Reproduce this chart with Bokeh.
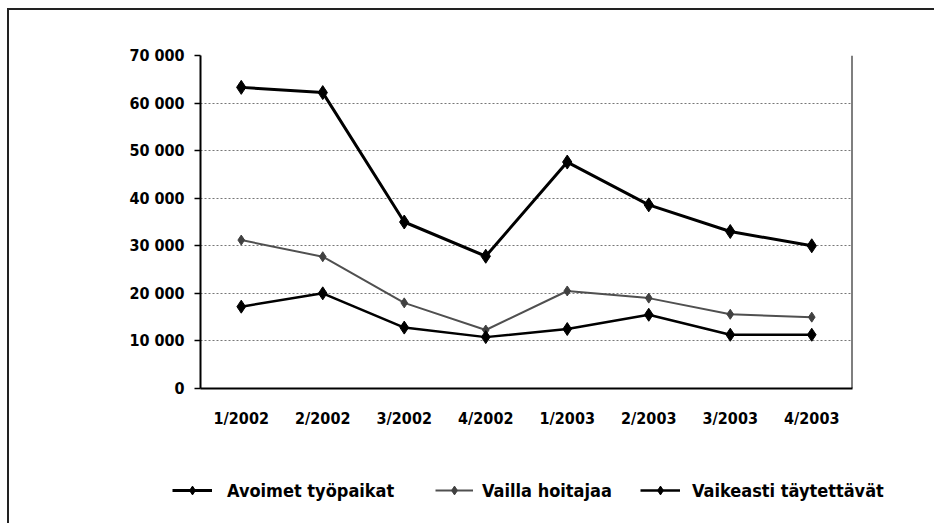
from bokeh.plotting import figure
from bokeh.models import FactorRange, Range1d, Legend, LegendItem, FixedTicker, Span, Column, Row
from bokeh.embed import file_html
from bokeh.resources import INLINE

quarters = ["1/2002", "2/2002", "3/2002", "4/2002", "1/2003", "2/2003", "3/2003", "4/2003"]
avoimet = [63300, 62200, 35000, 27800, 47600, 38600, 33000, 30000]
vailla = [31200, 27700, 18000, 12300, 20500, 19000, 15600, 15000]
vaikeasti = [17200, 20000, 12800, 10800, 12500, 15500, 11300, 11300]
yticks = [0, 10000, 20000, 30000, 40000, 50000, 60000, 70000]
ylabels = ["0", "10 000", "20 000", "30 000", "40 000", "50 000", "60 000", "70 000"]
series_names = ["Avoimet työpaikat", "Vailla hoitajaa", "Vaikeasti täytettävät"]

FONT = "DejaVu Sans Condensed"
W = 925

p = figure(width=W, height=420, x_range=FactorRange(*quarters, range_padding=0),
           y_range=Range1d(0, 70000), output_backend="svg", toolbar_location=None,
           min_border_left=191, min_border_right=82, min_border_top=45, min_border_bottom=38)
p.outline_line_color = None
p.xgrid.grid_line_color = None
p.ygrid.grid_line_color = "#777777"
p.ygrid.grid_line_dash = "2 2"
p.ygrid.grid_line_width = 1
p.yaxis.ticker = FixedTicker(ticks=yticks)
p.yaxis.major_label_overrides = {t: l for t, l in zip(yticks, ylabels)}
for ax in (p.xaxis, p.yaxis):
    ax.axis_line_color = "black"
    ax.axis_line_width = 2
    ax.major_label_text_font = FONT
    ax.major_label_text_font_style = "bold"
    ax.major_label_text_font_size = "16px"
    ax.major_label_text_color = "black"
    ax.minor_tick_line_color = None
p.yaxis.major_tick_line_color = "black"
p.yaxis.major_tick_line_width = 1.5
p.yaxis.major_tick_out = 6
p.yaxis.major_tick_in = 0
p.yaxis.major_label_standoff = 10
p.xaxis.major_tick_line_color = None
p.xaxis.major_label_standoff = 14
p.add_layout(Span(location=len(quarters), dimension="height", line_color="black", line_width=2))

r1 = p.line(quarters, avoimet, line_color="black", line_width=3)
m1 = p.scatter(quarters, avoimet, marker="diamond", size=14, color="black")
r2 = p.line(quarters, vailla, line_color="#505050", line_width=2)
m2 = p.scatter(quarters, vailla, marker="diamond", size=10, color="#404040")
r3 = p.line(quarters, vaikeasti, line_color="black", line_width=2.5)
m3 = p.scatter(quarters, vaikeasti, marker="diamond", size=13, color="black")

# legend strip
lg = figure(width=W, height=93, x_range=Range1d(0, 10), y_range=Range1d(0, 10),
            output_backend="svg", toolbar_location=None, min_border=0,
            min_border_left=0, min_border_right=0, min_border_top=0, min_border_bottom=0)
lg.axis.visible = False
lg.grid.grid_line_color = None
lg.outline_line_color = None
off = [-100]
l1 = lg.line(off, off, line_color="black", line_width=3)
s1 = lg.scatter(off, off, marker="diamond", size=14, color="black")
l2 = lg.line(off, off, line_color="#505050", line_width=2)
s2 = lg.scatter(off, off, marker="diamond", size=10, color="#404040")
l3 = lg.line(off, off, line_color="black", line_width=2.5)
s3 = lg.scatter(off, off, marker="diamond", size=13, color="black")

specs = [(163, 40, 15), (426, 38, 9), (631, 40, 12)]
for name, rends, (xpos, gw, st) in zip(series_names, [[l1, s1], [l2, s2], [l3, s3]], specs):
    leg = Legend(items=[LegendItem(label=name, renderers=rends)], location=(xpos, 22))
    leg.label_text_font = FONT
    leg.label_text_font_style = "bold"
    leg.label_text_font_size = "18px"
    leg.label_text_color = "black"
    leg.border_line_color = None
    leg.background_fill_alpha = 0
    leg.glyph_width = gw
    leg.glyph_height = 22
    leg.label_height = 22
    leg.label_standoff = st
    leg.padding = 0
    leg.margin = 0
    lg.add_layout(leg)

layout = Column(p, Row(lg), styles={"border-top": "2px solid #222", "border-left": "2px solid #222",
                                     "margin-top": "8px", "margin-left": "7px"})
open("out.html", "w").write(file_html(layout, INLINE))
